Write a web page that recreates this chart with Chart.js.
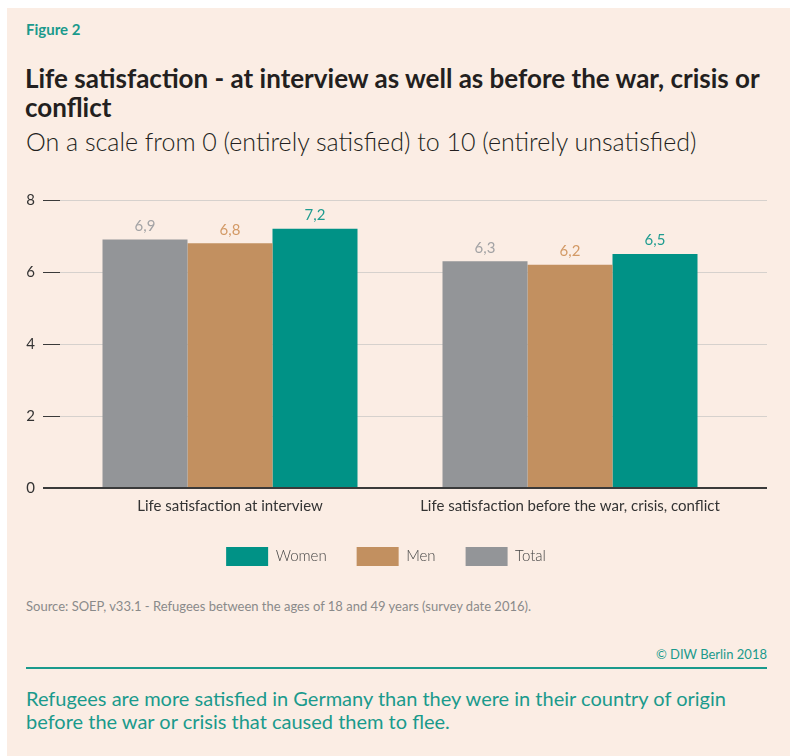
<!DOCTYPE html>
<html>
<head>
<meta charset="utf-8">
<script src="https://cdn.jsdelivr.net/npm/chart.js@4/dist/chart.umd.min.js"></script>
<style>
  body { margin: 0; background: #fff; width: 790px; height: 756px; overflow: hidden; font-family: Lato, sans-serif; }
  .panel { position: absolute; left: 7px; top: 8px; width: 783px; height: 748px; background: #fbede4; }
  .txt { position: absolute; white-space: nowrap; }
  #fig { left: 26px; top: 20px; font-size: 15px; font-weight: 700; color: #1a9a8c; }
  #title { left: 25px; top: 64px; font-size: 26px; font-weight: 700; color: #231f20; line-height: 29px; }
  #sub { left: 26px; top: 126px; font-size: 25px; font-weight: 300; color: #231f20; }
  #src { left: 26px; top: 598px; font-size: 13px; color: #8a8a8a; }
  #copy { right: 23px; top: 646px; font-size: 13px; color: #1a9a8c; }
  #rule { position: absolute; left: 26px; top: 667px; width: 741px; height: 2px; background: #1a9a8c; }
  #note { left: 26px; top: 687px; font-size: 20px; color: #1a9a8c; line-height: 23px; }
  #wrap { position: absolute; left: 0; top: 180px; width: 790px; height: 400px; }
</style>
</head>
<body>
<div class="panel"></div>
<div class="txt" id="fig">Figure 2</div>
<div class="txt" id="title">Life satisfaction - at interview as well as before the war, crisis or<br>conflict</div>
<div class="txt" id="sub">On a scale from 0 (entirely satisfied) to 10 (entirely unsatisfied)</div>
<div id="wrap"><canvas id="chart"></canvas></div>
<div class="txt" id="src">Source: SOEP, v33.1 - Refugees between the ages of 18 and 49 years (survey date 2016).</div>
<div class="txt" id="copy">© DIW Berlin 2018</div>
<div id="rule"></div>
<div class="txt" id="note">Refugees are more satisfied in Germany than they were in their country of origin<br>before the war or crisis that caused them to flee.</div>

<script>
// ---- Data ----
const categories = ['Life satisfaction at interview', 'Life satisfaction before the war, crisis, conflict'];
const totalValues = [6.9, 6.3];
const menValues = [6.8, 6.2];
const womenValues = [7.2, 6.5];
const yTicks = [0, 2, 4, 6, 8];

const GRID = '#d6d1cd';
const DARK = '#3a3a3a';

// value labels above bars, comma as decimal mark
const valueLabels = {
  id: 'valueLabels',
  afterDatasetsDraw(chart) {
    const ctx = chart.ctx;
    ctx.save();
    ctx.font = '15px Lato';
    ctx.textAlign = 'center';
    ctx.textBaseline = 'bottom';
    chart.data.datasets.forEach((ds, i) => {
      chart.getDatasetMeta(i).data.forEach((bar, j) => {
        ctx.fillStyle = ds.labelColor;
        ctx.fillText(ds.data[j].toFixed(1).replace('.', ','), bar.x, bar.y - 6);
      });
    });
    ctx.restore();
  }
};

// gridlines run on past the last bar group
const gridTail = {
  id: 'gridTail',
  beforeDatasetsDraw(chart) {
    const { ctx, chartArea } = chart;
    const y = chart.scales.y;
    ctx.save();
    y.ticks.forEach(t => {
      const py = Math.round(y.getPixelForValue(t.value));
      ctx.strokeStyle = t.value === 0 ? DARK : GRID;
      ctx.lineWidth = t.value === 0 ? 2 : 1;
      ctx.beginPath();
      ctx.moveTo(chartArea.right - 1, t.value === 0 ? py : py + 0.5);
      ctx.lineTo(767, t.value === 0 ? py : py + 0.5);
      ctx.stroke();
    });
    ctx.restore();
  }
};

new Chart(document.getElementById('chart'), {
  type: 'bar',
  data: {
    labels: categories,
    datasets: [
      { label: 'Total', data: totalValues, backgroundColor: '#939598', labelColor: '#a3a3a5' },
      { label: 'Men', data: menValues, backgroundColor: '#c29060', labelColor: '#d39a66' },
      { label: 'Women', data: womenValues, backgroundColor: '#009286', labelColor: '#1f9c90' }
    ]
  },
  options: {
    responsive: true,
    maintainAspectRatio: false,
    animation: false,
    layout: { padding: { top: 20, left: 0, right: 18, bottom: 4 } },
    datasets: { bar: { categoryPercentage: 0.75, barPercentage: 1, borderWidth: 0 } },
    scales: {
      x: {
        grid: { display: false },
        border: { display: false },
        ticks: { color: '#333', font: { family: 'Lato', size: 15 }, padding: 1 },
        afterFit(scale) { scale.height = 29; }
      },
      y: {
        min: 0,
        max: 8,
        afterBuildTicks(scale) { scale.ticks = yTicks.map(v => ({ value: v })); },
        afterFit(scale) { scale.width = 60; },
        border: { display: false },
        grid: {
          color: c => c.tick && c.tick.value === 0 ? DARK : GRID,
          lineWidth: c => c.tick && c.tick.value === 0 ? 2 : 1,
          tickColor: DARK,
          tickLength: 17
        },
        ticks: { color: '#333', font: { family: 'Lato', size: 15 }, padding: 8 }
      },
      // empty right-hand axis: keeps the plot short of the legend's right edge
      y2: {
        position: 'right',
        min: 0,
        max: 8,
        grid: { display: false, drawTicks: false },
        border: { display: false },
        ticks: { display: false },
        afterFit(scale) { scale.width = 32; }
      }
    },
    plugins: {
      legend: {
        position: 'bottom',
        reverse: true,
        labels: {
          boxWidth: 42,
          boxHeight: 19,
          padding: 30,
          color: '#444',
          font: { family: 'Lato', size: 15, weight: '300' }
        }
      },
      tooltip: { enabled: false }
    }
  },
  plugins: [valueLabels, gridTail]
});
</script>
</body>
</html>
